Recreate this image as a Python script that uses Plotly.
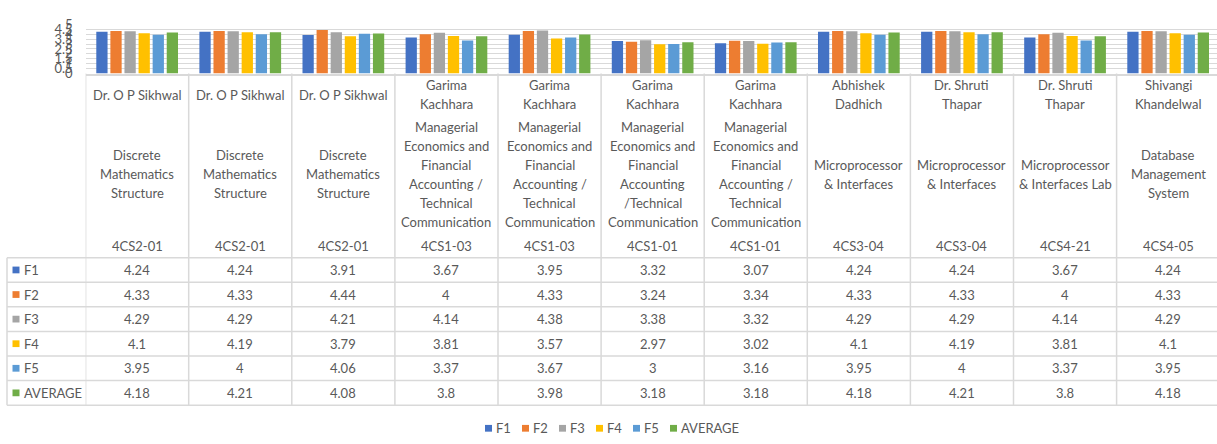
import plotly.graph_objects as go

W, H = 1217, 444

series_names = ["F1", "F2", "F3", "F4", "F5", "AVERAGE"]
colors = ["#4472C4", "#ED7D31", "#A5A5A5", "#FFC000", "#5B9BD5", "#70AD47"]

teachers = ["Dr. O P Sikhwal", "Dr. O P Sikhwal", "Dr. O P Sikhwal",
            "Garima<br>Kachhara", "Garima<br>Kachhara", "Garima<br>Kachhara", "Garima<br>Kachhara",
            "Abhishek<br>Dadhich", "Dr. Shruti<br>Thapar", "Dr. Shruti<br>Thapar", "Shivangi<br>Khandelwal"]
subjects = ["Discrete<br>Mathematics<br>Structure"] * 3 + \
           ["Managerial<br>Economics and<br>Financial<br>Accounting /<br>Technical<br>Communication"] * 2 + \
           ["Managerial<br>Economics and<br>Financial<br>Accounting<br>/Technical<br>Communication",
            "Managerial<br>Economics and<br>Financial<br>Accounting /<br>Technical<br>Communication",
            "Microprocessor<br>& Interfaces", "Microprocessor<br>& Interfaces",
            "Microprocessor<br>& Interfaces Lab", "Database<br>Management<br>System"]
codes = ["4CS2-01", "4CS2-01", "4CS2-01", "4CS1-03", "4CS1-03", "4CS1-01", "4CS1-01",
         "4CS3-04", "4CS3-04", "4CS4-21", "4CS4-05"]

F1 = [4.24, 4.24, 3.91, 3.67, 3.95, 3.32, 3.07, 4.24, 4.24, 3.67, 4.24]
F2 = [4.33, 4.33, 4.44, 4, 4.33, 3.24, 3.34, 4.33, 4.33, 4, 4.33]
F3 = [4.29, 4.29, 4.21, 4.14, 4.38, 3.38, 3.32, 4.29, 4.29, 4.14, 4.29]
F4 = [4.1, 4.19, 3.79, 3.81, 3.57, 2.97, 3.02, 4.1, 4.19, 3.81, 4.1]
F5 = [3.95, 4, 4.06, 3.37, 3.67, 3, 3.16, 3.95, 4, 3.37, 3.95]
AVERAGE = [4.18, 4.21, 4.08, 3.8, 3.98, 3.18, 3.18, 4.18, 4.21, 3.8, 4.18]
series_values = [F1, F2, F3, F4, F5, AVERAGE]

y_ticks = [0, 0.5, 1, 1.5, 2, 2.5, 3, 3.5, 4, 4.5, 5]

FONT = "Lato"
TXT = "#595959"
GRID = "#D9D9D9"


def px(x):
    return x / W


def py(y):
    return 1 - y / H


n = len(codes)
xs = list(range(n))

fig = go.Figure()
for name, vals, c in zip(series_names, series_values, colors):
    fig.add_trace(go.Bar(x=xs, y=vals, name=name, marker=dict(color=c, line=dict(width=0)),
                         showlegend=False))

col_left = 85.6
col_w = 103.1
x_end = -0.5 + (W - col_left) / col_w

shapes = []
annotations = []

# table geometry (pixels)
plot_top, plot_bottom = 17, 68
row_edges = [259, 284.5, 310, 335.5, 361, 386.5, 412]
line_style = dict(color=GRID, width=1.5)

# vertical column lines
for i in range(n):
    shapes.append(dict(type="line", xref="x", yref="paper", x0=i - 0.5, x1=i - 0.5,
                       y0=py(plot_bottom), y1=py(row_edges[-1]), line=line_style, layer="above"))
# left border of row-label column
shapes.append(dict(type="line", xref="paper", yref="paper", x0=px(7), x1=px(7),
                   y0=py(row_edges[0]), y1=py(row_edges[-1]), line=line_style))
# horizontal row lines
for ye in row_edges:
    shapes.append(dict(type="line", xref="paper", yref="paper", x0=px(7), x1=1,
                       y0=py(ye), y1=py(ye), line=line_style))

LS = 19.8


def add_lines(text, xi, yc, size=13):
    parts = text.split("<br>")
    k = len(parts)
    for j, p in enumerate(parts):
        yy = yc + (j - (k - 1) / 2) * LS
        annotations.append(dict(x=xi, y=py(yy), xref="x", yref="paper", text=p, showarrow=False,
                                xanchor="center", yanchor="middle",
                                font=dict(family=FONT, size=size, color=TXT)))


for i in range(n):
    add_lines(teachers[i], i, 90)
    add_lines(subjects[i], i, 172.5)
    add_lines(codes[i], i, 247)

# data rows
for r, (name, vals, c) in enumerate(zip(series_names, series_values, colors)):
    yc = (row_edges[r] + row_edges[r + 1]) / 2
    for i, v in enumerate(vals):
        annotations.append(dict(x=i, y=py(yc), xref="x", yref="paper", text=f"{v:g}", showarrow=False,
                                xanchor="center", yanchor="middle",
                                font=dict(family=FONT, size=13, color=TXT)))
    shapes.append(dict(type="rect", xref="paper", yref="paper", x0=px(12.5), x1=px(19.5),
                       y0=py(yc - 3.5), y1=py(yc + 3.5), fillcolor=c, line=dict(width=0)))
    annotations.append(dict(x=px(22), y=py(yc), xref="paper", yref="paper", text=name, showarrow=False,
                            xanchor="left", yanchor="middle",
                            font=dict(family=FONT, size=13, color=TXT)))

# legend
leg_x = [485, 522, 559, 596, 633, 670]
leg_y = 436
for name, c, lx in zip(series_names, colors, leg_x):
    shapes.append(dict(type="rect", xref="paper", yref="paper", x0=px(lx), x1=px(lx + 7),
                       y0=py(leg_y - 3.5), y1=py(leg_y + 3.5), fillcolor=c, line=dict(width=0)))
    annotations.append(dict(x=px(lx + 9), y=py(leg_y), xref="paper", yref="paper", text=name,
                            showarrow=False, xanchor="left", yanchor="middle",
                            font=dict(family=FONT, size=13, color=TXT)))

fig.update_layout(
    width=W, height=H, autosize=False,
    margin=dict(l=0, r=0, t=0, b=0),
    paper_bgcolor="white", plot_bgcolor="white",
    barmode="group", bargap=0.18, bargroupgap=0.2,
    shapes=shapes, annotations=annotations,
    xaxis=dict(domain=[px(col_left), 1], range=[-0.5, x_end], showticklabels=False,
               showgrid=False, zeroline=False, showline=True, linecolor=GRID, linewidth=1.5,
               ticks="", fixedrange=True),
    yaxis=dict(domain=[py(plot_bottom), py(plot_top)], range=[0, 5], tickvals=y_ticks,
               ticktext=[f"{t:g}" for t in y_ticks], showgrid=True, gridcolor=GRID, gridwidth=1,
               zeroline=False, showline=False, ticks="", ticklabelstandoff=12,
               tickfont=dict(family=FONT, size=13, color=TXT), fixedrange=True),
)

post = (
    "var de=document.documentElement, b=document.body;"
    "de.style.margin='0';de.style.padding='0';de.style.overflow='hidden';"
    "de.style.width='1217px';de.style.height='444px';"
    "b.style.margin='0';b.style.padding='0';b.style.overflow='hidden';"
    "b.style.width='1217px';b.style.height='444px';"
    "var d=document.getElementById('{plot_id}');"
    "d.style.position='fixed';d.style.top='0';d.style.left='0';"
)

fig.write_html("out.html", config={"displayModeBar": False}, post_script=post)
